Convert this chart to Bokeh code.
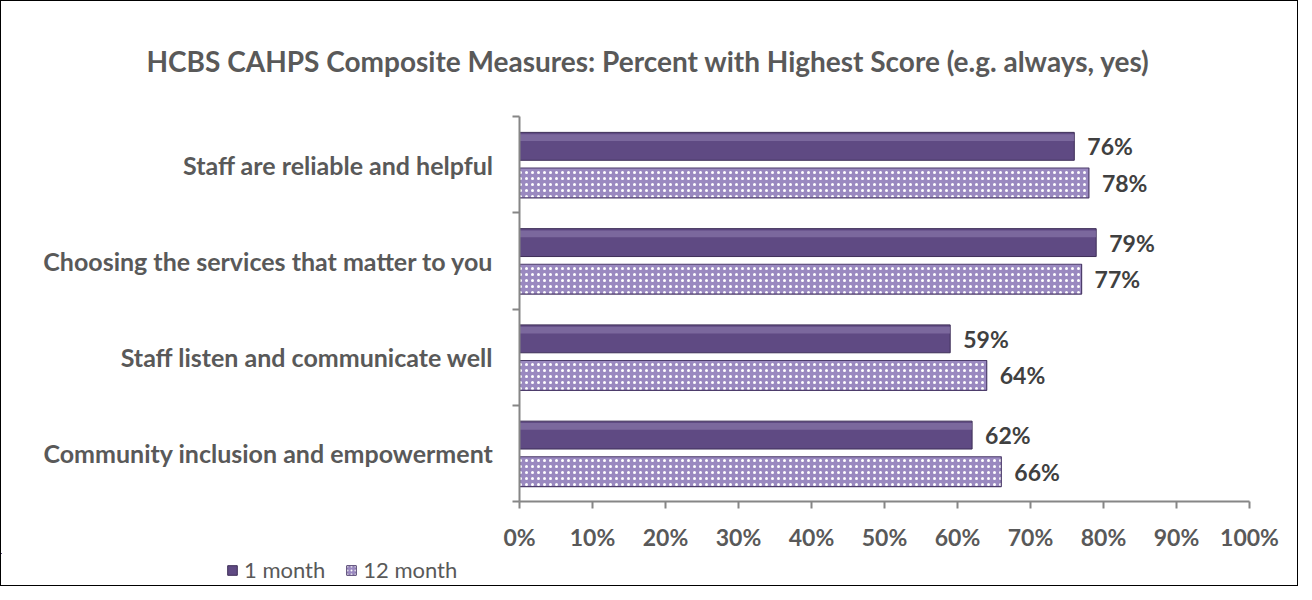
from bokeh.plotting import figure
from bokeh.layouts import column
from bokeh.models import Range1d, FixedTicker, LinearAxis, Legend, LegendItem
from bokeh.core.properties import value
from bokeh.embed import file_html
from bokeh.resources import INLINE

categories = ["Staff are reliable and helpful",
              "Choosing the services that matter to you",
              "Staff listen and communicate well",
              "Community inclusion and empowerment"]
month1 = [76, 79, 59, 62]
month12 = [78, 77, 64, 66]
x_ticks = [0, 10, 20, 30, 40, 50, 60, 70, 80, 90, 100]
series = ["1 month", "12 month"]

FONT = "Lato"
GREY = "#595959"
C1_FILL, C1_LINE = "#5f4a83", "#3d2e57"
C12_FILL, C12_LINE = "#9a89c0", "#4d3d6b"

n = len(categories)
idx = list(range(n))
y1 = [i + 0.31 for i in idx]
y12 = [i + 0.69 for i in idx]

p = figure(width=1296, height=552, output_backend="svg", toolbar_location=None,
           x_range=Range1d(0, 100), y_range=Range1d(n, 0),
           min_border_left=518, min_border_right=48, min_border_top=115, min_border_bottom=52,
           x_axis_location="below", y_axis_location=None)
p.outline_line_color = None
p.xgrid.grid_line_color = None
p.ygrid.grid_line_color = None

p.title.text = "HCBS CAHPS Composite Measures: Percent with Highest Score (e.g. always, yes)"
p.title.text_font = FONT
p.title.text_font_size = "28px"
p.title.text_font_style = "bold"
p.title.text_color = GREY
p.title.align = "left"
p.title.offset = -373
p.title.standoff = 77

# x axis
xa = p.xaxis[0]
xa.ticker = FixedTicker(ticks=x_ticks)
xa.major_label_overrides = {t: f"{t}%" for t in x_ticks}
xa.major_label_text_font = FONT
xa.major_label_text_font_size = "23px"
xa.major_label_text_font_style = "bold"
xa.major_label_text_color = GREY
xa.axis_line_color = "#868686"
xa.axis_line_width = 2
xa.major_tick_line_color = "#868686"
xa.major_tick_line_width = 2
xa.major_tick_in = 0
xa.major_tick_out = 7
xa.minor_tick_line_color = None
xa.major_label_standoff = 14

# y axis with ticks at category boundaries
ya_ticks = LinearAxis(ticker=FixedTicker(ticks=list(range(n + 1))))
ya_ticks.major_label_overrides = {i: "" for i in range(n + 1)}
ya_ticks.major_label_text_font_size = "1px"
ya_ticks.major_label_standoff = 0
ya_ticks.axis_line_color = "#868686"
ya_ticks.axis_line_width = 2
ya_ticks.major_tick_line_color = "#868686"
ya_ticks.major_tick_line_width = 2
ya_ticks.major_tick_in = 0
ya_ticks.major_tick_out = 7
ya_ticks.minor_tick_line_color = None
p.add_layout(ya_ticks, "left")

# y axis with category labels
ya_lab = LinearAxis(ticker=FixedTicker(ticks=[i + 0.5 for i in idx]))
ya_lab.major_label_overrides = {i + 0.5: c for i, c in zip(idx, categories)}
ya_lab.major_label_text_font = FONT
ya_lab.major_label_text_font_size = "25px"
ya_lab.major_label_text_font_style = "bold"
ya_lab.major_label_text_color = GREY
ya_lab.axis_line_color = None
ya_lab.major_tick_line_color = None
ya_lab.minor_tick_line_color = None
ya_lab.major_label_standoff = 13
p.add_layout(ya_lab, "left")

# bars
p.hbar(y=y1, right=month1, left=0, height=0.29,
       fill_color=C1_FILL, line_color=C1_LINE, line_width=1)
p.hbar(y=[v - 0.09 for v in y1], right=month1, left=0, height=0.07,
       fill_color="#9281b3", fill_alpha=0.55, line_color=None)
p.hbar(y=y12, right=month12, left=0, height=0.31,
       fill_color=C12_FILL, line_color=C12_LINE, line_width=1.2,
       hatch_pattern="dot", hatch_color="white", hatch_scale=6, hatch_weight=1.5)

# value labels
for vals, ys in ((month1, y1), (month12, y12)):
    p.text(x=vals, y=ys, text=[f"{v}%" for v in vals], x_offset=13,
           text_font=value(FONT), text_font_size="23px", text_font_style="bold",
           text_color="#404040", text_baseline="middle", text_align="left")

# legend strip: same series placed outside the strip's visible ranges,
# so that only their legend swatches show
q = figure(width=1296, height=32, output_backend="svg", toolbar_location=None,
           x_range=Range1d(200, 300), y_range=Range1d(-2, -1),
           min_border=0, x_axis_location=None, y_axis_location=None)
try:
    q.frame_align = False
except Exception:
    pass
q.outline_line_color = None
q.xgrid.grid_line_color = None
q.ygrid.grid_line_color = None
g1 = q.hbar(y=y1, right=month1, left=0, height=0.3,
            fill_color=C1_FILL, line_color=C1_LINE)
g12 = q.hbar(y=y12, right=month12, left=0, height=0.3,
             fill_color=C12_FILL, line_color=C12_LINE,
             hatch_pattern="dot", hatch_color="white", hatch_scale=4, hatch_weight=1)
legend = Legend(items=[LegendItem(label=series[0], renderers=[g1]),
                       LegendItem(label=series[1], renderers=[g12])],
                orientation="horizontal", location=(225, 2),
                label_text_font=FONT, label_text_font_size="22px", label_text_color=GREY,
                glyph_width=12, glyph_height=12, spacing=20, label_standoff=6,
                background_fill_alpha=0, border_line_color=None, padding=0, margin=0)
q.add_layout(legend, "center")

layout = column(p, q, spacing=0)
layout.styles = {"border": "1.5px solid black"}

open("out.html", "w").write(file_html(layout, INLINE))
